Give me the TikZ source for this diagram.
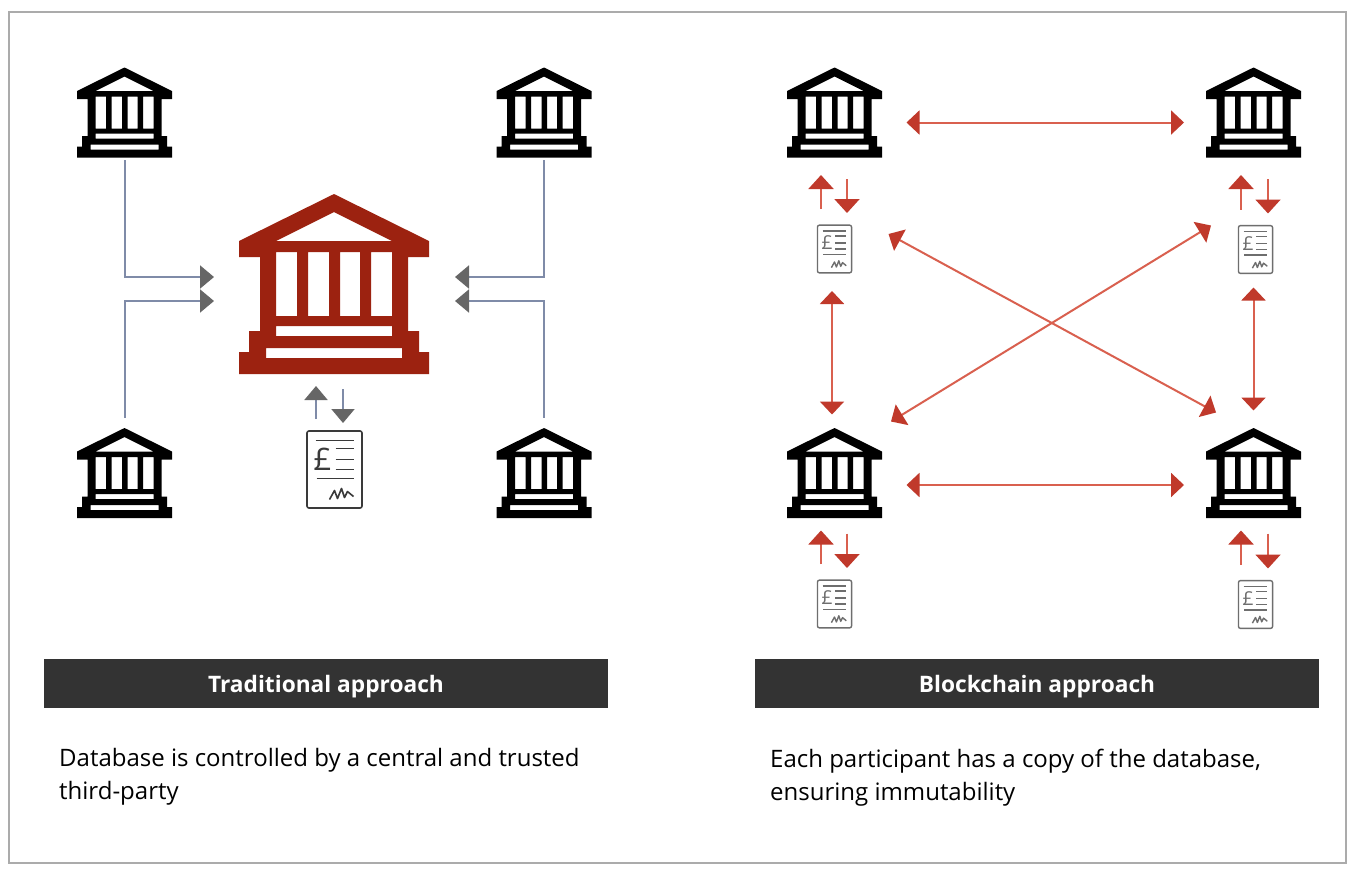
\documentclass[tikz,border=0pt]{standalone}
\usepackage{fontspec}
\setmainfont{Open Sans}
\usetikzlibrary{arrows.meta}
\definecolor{hubred}{HTML}{9C2210}
\definecolor{linkred}{HTML}{D9604F}
\definecolor{headred}{HTML}{C0392B}
\definecolor{slateline}{HTML}{7F8BA8}
\definecolor{headgrey}{HTML}{666666}
\definecolor{bardark}{HTML}{333333}
\definecolor{framegrey}{HTML}{ABABAB}
\definecolor{docink}{HTML}{3A3A3A}
\definecolor{docgrey}{HTML}{6E6E6E}
\tikzset{
    bankbox/.style={minimum width=95pt,minimum height=89pt,inner sep=0pt,outer sep=0pt},
    hubbox/.style={minimum width=190pt,minimum height=180pt,inner sep=0pt,outer sep=0pt},
    docbox/.style={minimum width=34pt,minimum height=48pt,inner sep=0pt,outer sep=0pt},
    bigdocbox/.style={minimum width=55pt,minimum height=77pt,inner sep=0pt,outer sep=0pt},
    barbox/.style={fill=bardark,text=white,minimum width=564pt,minimum height=49pt,inner sep=0pt,font=\bfseries\fontsize{22.7}{27}\selectfont},
    caption/.style={anchor=north west,align=left,inner sep=0pt,font=\fontsize{24}{33}\selectfont},
    slatelink/.style={draw=slateline,line width=2pt,-{Triangle[length=14pt,width=23pt,color=headgrey]}},
    redlink/.style={draw=linkred,line width=2pt,{Triangle[length=13pt,width=24pt,color=headred]}-{Triangle[length=13pt,width=24pt,color=headred]}},
    redflow/.style={draw=linkred,line width=2pt,-{Triangle[length=14pt,width=25pt,color=headred]}},
    pics/bank/.style={code={
        \fill[even odd rule] (0,-90) -- (95,-43) -- (95,-27) -- (74,-27) -- (74,47) -- (85,47)
            -- (85,68) -- (95,68) -- (95,90) -- (-95,90) -- (-95,68) -- (-85,68) -- (-85,47)
            -- (-74,47) -- (-74,-27) -- (-95,-27) -- (-95,-43) -- cycle
            (0,-72) -- (58,-43) -- (-58,-43) -- cycle
            (-58,-32) rectangle (-37,32)
            (-26,-32) rectangle (-5,32)
            (6,-32) rectangle (26,32)
            (37,-32) rectangle (58,32)
            (-58,42) rectangle (58,52)
            (-68,64) rectangle (68,74);
    }},
    pics/ledger/.style={code={
        \draw[fill=white,rounded corners=2pt] (-27.5,-38.5) rectangle (27.5,38.5);
        \draw (-19,-29) -- (19,-29);
        \node[transform shape,inner sep=0pt] (pound) at (-12,-10) {\fontsize{31}{31}\selectfont £};
        \draw (1,-21) -- (19,-21);
        \draw (1,-10) -- (19,-10);
        \draw (1,0) -- (19,0);
        \draw (-18,9) -- (19,9);
        \draw[line join=round] (-5,30) -- (0,21) -- (3,29) -- (7,19) -- (10,28) -- (13,22) -- (19,27);
    }}
}
\begin{document}
\begin{tikzpicture}[x=1pt,y=-1pt]
    \useasboundingbox (0,0) rectangle (1354,876);
    \draw[framegrey,line width=1.3pt,fill=white] (9,12) rectangle (1346,863);

    \node[bankbox] (bankA) at (124.5,112.5) {};
    \node[bankbox] (bankB) at (544,112.5) {};
    \node[bankbox] (bankC) at (124.5,473) {};
    \node[bankbox] (bankD) at (544,473) {};
    \node[hubbox] (hub) at (334,284) {};
    \node[bigdocbox] (ledger) at (334.5,469.5) {};

    \node[bankbox] (peerA) at (834.5,112.5) {};
    \node[bankbox] (peerB) at (1253.5,112.5) {};
    \node[bankbox] (peerC) at (834.5,473) {};
    \node[bankbox] (peerD) at (1253.5,473) {};
    \node[docbox] (copyA) at (834.5,249) {};
    \node[docbox] (copyB) at (1255.5,249.5) {};
    \node[docbox] (copyC) at (834.5,604) {};
    \node[docbox] (copyD) at (1255.5,604.5) {};

    \pic (iconA) [scale=0.5] at (bankA) {bank};
    \pic (iconB) [scale=0.5] at (bankB) {bank};
    \pic (iconC) [scale=0.5] at (bankC) {bank};
    \pic (iconD) [scale=0.5] at (bankD) {bank};
    \pic (iconHub) [color=hubred] at (hub) {bank};
    \pic (iconE) [scale=0.5] at (peerA) {bank};
    \pic (iconF) [scale=0.5] at (peerB) {bank};
    \pic (iconG) [scale=0.5] at (peerC) {bank};
    \pic (iconH) [scale=0.5] at (peerD) {bank};

    \pic (sheetHub) [color=docink,line width=1.6pt] at (ledger) {ledger};
    \pic (sheetA) [color=docgrey,scale=0.62,line width=1.4pt] at (copyA) {ledger};
    \pic (sheetB) [color=docgrey,scale=0.62,line width=1.4pt] at (copyB) {ledger};
    \pic (sheetC) [color=docgrey,scale=0.62,line width=1.4pt] at (copyC) {ledger};
    \pic (sheetD) [color=docgrey,scale=0.62,line width=1.4pt] at (copyD) {ledger};

    \draw[slatelink] ([yshift=-3pt]bankA.south) |- ([xshift=-25pt,yshift=7pt]hub.west);
    \draw[slatelink] ([yshift=11pt]bankC.north) |- ([xshift=-25pt,yshift=-17pt]hub.west);
    \draw[slatelink] ([yshift=-3pt]bankB.south) |- ([xshift=26pt,yshift=7pt]hub.east);
    \draw[slatelink] ([yshift=11pt]bankD.north) |- ([xshift=26pt,yshift=-17pt]hub.east);
    \draw[slatelink] ([xshift=-18.5pt,yshift=12pt]ledger.north) -- ([xshift=-18pt,yshift=-12pt]hub.south);
    \draw[slatelink] ([xshift=9pt,yshift=-15pt]hub.south) -- ([xshift=8.5pt,yshift=8pt]ledger.north);

    \draw[redlink] ([xshift=24.5pt,yshift=-10pt]peerA.east) -- ([xshift=-22pt,yshift=-10pt]peerB.west);
    \draw[redlink] ([xshift=24.5pt,yshift=-12pt]peerC.east) -- ([xshift=-22pt,yshift=-12pt]peerD.west);
    \draw[redlink] ([xshift=-2.5pt,yshift=-18pt]copyA.south) -- ([xshift=-2.5pt,yshift=14pt]peerC.north);
    \draw[redlink] ([xshift=-2pt,yshift=-14pt]copyB.south) -- ([yshift=18pt]peerD.north);
    \draw[redlink] ([xshift=37pt,yshift=-9pt]copyA.north east) -- ([xshift=10pt,yshift=16pt]peerD.north west);
    \draw[redlink] ([xshift=9pt,yshift=7pt]peerC.north east) -- ([xshift=-27.5pt]copyB.north west);

    \draw[redflow] ([xshift=-13.5pt,yshift=16pt]copyA.north) -- ([xshift=-13.5pt,yshift=-18pt]peerA.south);
    \draw[redflow] ([xshift=12.5pt,yshift=-22pt]peerA.south) -- ([xshift=12.5pt,yshift=12pt]copyA.north);
    \draw[redflow] ([xshift=-14.5pt,yshift=16pt]copyB.north) -- ([xshift=-12.5pt,yshift=-18pt]peerB.south);
    \draw[redflow] ([xshift=14.5pt,yshift=-22pt]peerB.south) -- ([xshift=12.5pt,yshift=12pt]copyB.north);
    \draw[redflow] ([xshift=-13.5pt,yshift=16pt]copyC.north) -- ([xshift=-13.5pt,yshift=-13pt]peerC.south);
    \draw[redflow] ([xshift=12.5pt,yshift=-16pt]peerC.south) -- ([xshift=12.5pt,yshift=12pt]copyC.north);
    \draw[redflow] ([xshift=-14.5pt,yshift=16pt]copyD.north) -- ([xshift=-12.5pt,yshift=-13pt]peerD.south);
    \draw[redflow] ([xshift=14.5pt,yshift=-16pt]peerD.south) -- ([xshift=12.5pt,yshift=12pt]copyD.north);

    \node[barbox] (barLeft) at (326,683.5) {\raisebox{-8.5pt}[0pt][0pt]{Traditional approach}};
    \node[barbox] (barRight) at (1037,683.5) {\raisebox{-8.5pt}[0pt][0pt]{Blockchain approach}};
    \node[caption] (noteLeft) at (59,748.5) {Database is controlled by a central and trusted\\third-party};
    \node[caption] (noteRight) at (770,748.5) {Each participant has a copy of the database,\\ensuring immutability};
\end{tikzpicture}
\end{document}
